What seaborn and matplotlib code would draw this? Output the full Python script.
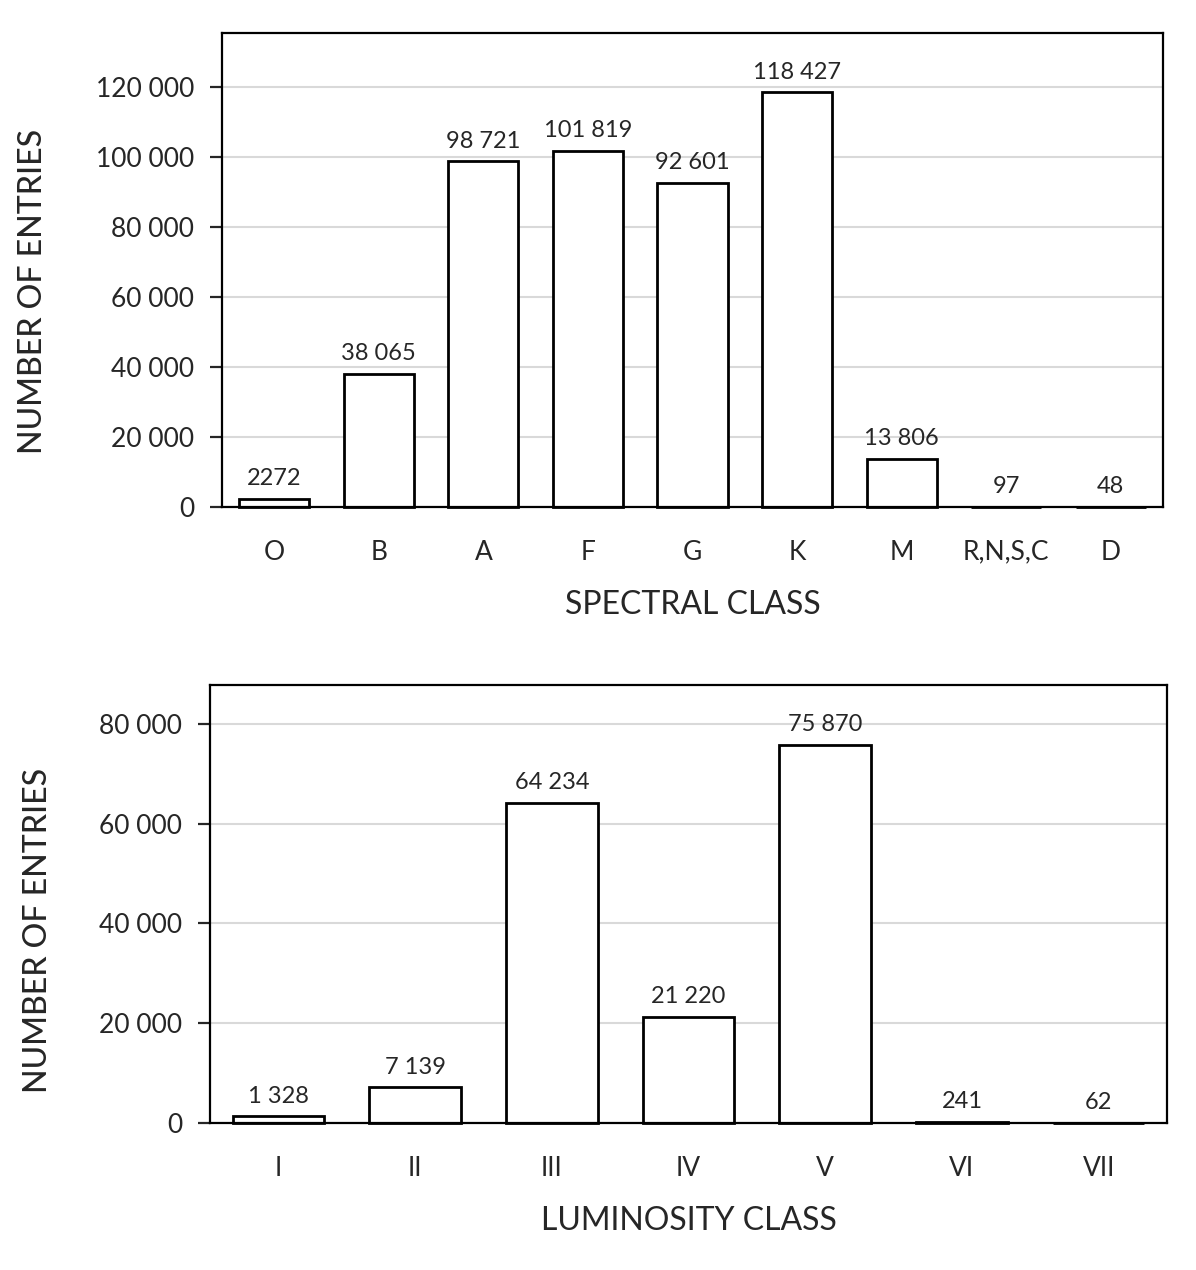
import pandas as pd
import seaborn as sns
import matplotlib.pyplot as plt
from matplotlib.ticker import FuncFormatter

# Dados
spectral_classes = ['O', 'B', 'A', 'F', 'G', 'K', 'M', 'R,N,S,C', 'D']
spectral_counts = [2272, 38065, 98721, 101819, 92601, 118427, 13806, 97, 48]
spectral_labels = ['2272', '38 065', '98 721', '101 819', '92 601', '118 427', '13 806', '97', '48']

lum_classes = ['I', 'II', 'III', 'IV', 'V', 'VI', 'VII']
lum_counts = [1328, 7139, 64234, 21220, 75870, 241, 62]
lum_labels = ['1 328', '7 139', '64 234', '21 220', '75 870', '241', '62']

sns.set_style('white')
plt.rcParams['font.family'] = ['Lato', 'DejaVu Sans']


def fmt_space(v, pos):
    return f'{int(v):,}'.replace(',', ' ')


def draw_panel(ax, cats, counts, labels, xlabel, ymax, ylab_xy):
    df = pd.DataFrame({'cat': cats, 'n': counts})
    sns.barplot(data=df, x='cat', y='n', ax=ax, color='white',
                edgecolor='black', linewidth=2, width=0.67)
    for p in ax.patches:
        p.set_clip_on(False)
    for i, (v, t) in enumerate(zip(counts, labels)):
        ax.annotate(t, (i, v), xytext=(0, 7), textcoords='offset points',
                    ha='center', va='bottom', fontsize=17)
    ax.set_ylim(0, ymax)
    ax.set_yticks(range(0, ymax, 20000))
    ax.yaxis.set_major_formatter(FuncFormatter(fmt_space))
    ax.yaxis.grid(True, color='#d9d9d9', linewidth=1.5)
    ax.set_axisbelow(True)
    for s in ax.spines.values():
        s.set_color('black')
        s.set_linewidth(1.6)
    ax.tick_params(axis='y', left=True, length=9, width=1.6,
                   labelsize=19, pad=11)
    ax.tick_params(axis='x', bottom=False, labelsize=19, pad=20)
    ax.set_xlabel(xlabel, fontsize=23, labelpad=18)
    ax.set_ylabel('NUMBER OF ENTRIES', fontsize=23, fontweight='medium')
    ax.yaxis.set_label_coords(*ylab_xy)


fig = plt.figure(figsize=(11.96, 12.7), dpi=100)
ax1 = fig.add_axes([222 / 1196, 1 - 507 / 1270, (1163 - 222) / 1196, (507 - 33) / 1270])
ax2 = fig.add_axes([210 / 1196, 1 - 1123 / 1270, (1167 - 210) / 1196, (1123 - 685) / 1270])

draw_panel(ax1, spectral_classes, spectral_counts, spectral_labels,
           'SPECTRAL CLASS', 135400, (-0.185, 0.455))
draw_panel(ax2, lum_classes, lum_counts, lum_labels,
           'LUMINOSITY CLASS', 87800, (-0.164, 0.44))

fig.savefig('out.png', dpi=100)
